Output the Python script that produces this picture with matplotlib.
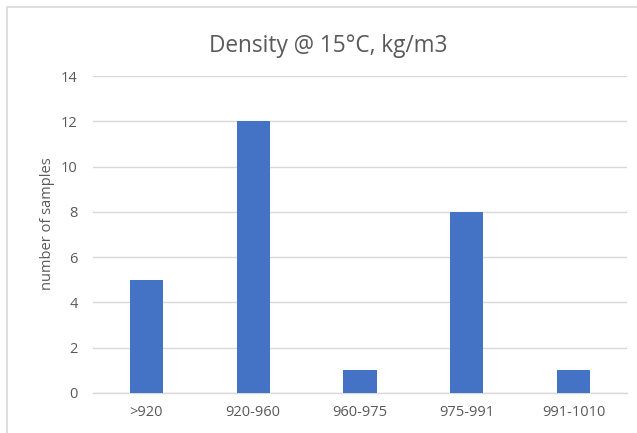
import matplotlib
matplotlib.use("Agg")
import matplotlib.pyplot as plt
from matplotlib.patches import Rectangle

categories = [">920", "920-960", "960-975", "975-991", "991-1010"]
counts = [5, 12, 1, 8, 1]
yticks = [0, 2, 4, 6, 8, 10, 12, 14]

plt.rcParams['font.family'] = ['Open Sans', 'DejaVu Sans']
W, H = 637, 433
fig = plt.figure(figsize=(W / 100, H / 100), dpi=100)
ax = fig.add_axes([93 / W, 1 - 393 / H, (627 - 93) / W, (393 - 76) / H])

x = list(range(len(categories)))
ax.bar(x, counts, width=0.31, color="#4472C4", zorder=3)
ax.set_xlim(-0.5, len(categories) - 0.5)
ax.set_ylim(0, 14)
ax.set_yticks(yticks)
ax.set_xticks(x)
ax.set_xticklabels(categories)
ax.grid(axis="y", color="#d9d9d9", linewidth=1.0, zorder=0)
for s in ["top", "right", "left"]:
    ax.spines[s].set_visible(False)
ax.spines["bottom"].set_color("#d9d9d9")
ax.spines["bottom"].set_linewidth(1.0)
ax.tick_params(axis="both", length=0, labelsize=10.5, colors="#595959")
ax.tick_params(axis="x", pad=9)
ax.tick_params(axis="y", pad=11)

fig.text(48 / W, 1 - 224 / H, "number of samples", rotation=90, ha="center", va="center",
         fontsize=10.5, color="#595959")
fig.text(328 / W, 1 - 52 / H, "Density @ 15°C, kg/m3", ha="center", va="baseline",
         fontsize=16.3, color="#595959")

fig.add_artist(Rectangle((7 / W, -0.1), 1.2, 1 - 7 / H + 0.1, transform=fig.transFigure,
                         fill=False, edgecolor="#d9d9d9", linewidth=1.2))

fig.savefig("out.png", dpi=100)
